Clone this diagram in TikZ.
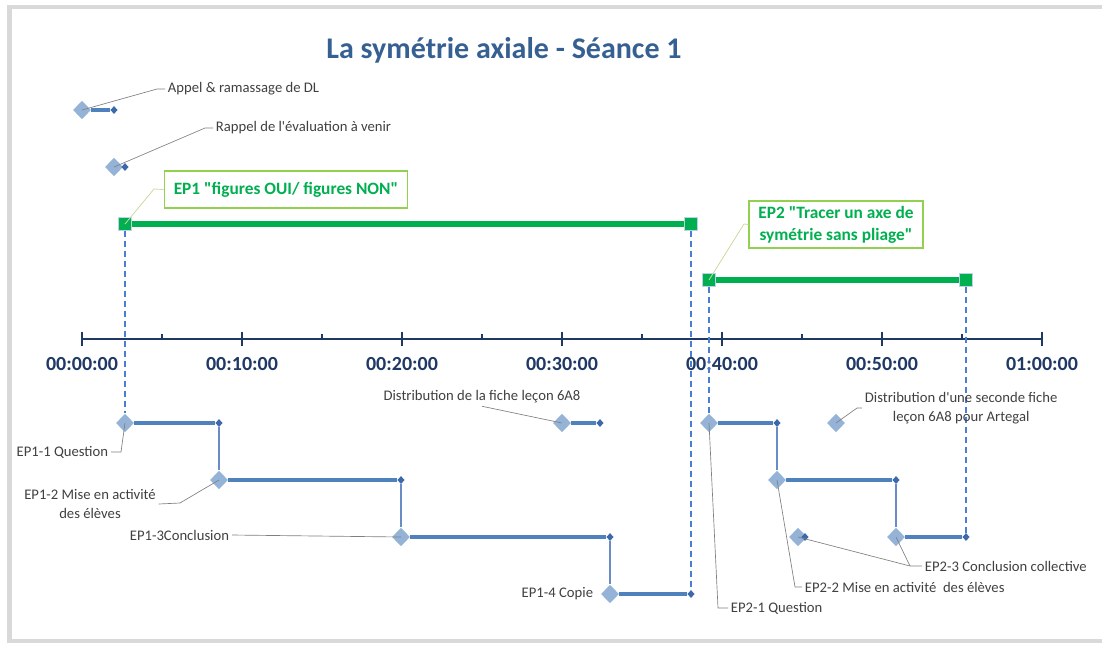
\documentclass[tikz,border=0pt]{standalone}
\usepackage{fontspec}
\setmainfont{Carlito}
\usepackage{tikz}
\usetikzlibrary{arrows.meta, shapes.geometric}
\definecolor{framegray}{RGB}{217,217,217}
\definecolor{titleblue}{RGB}{54,96,146}
\definecolor{axisblue}{RGB}{31,56,100}
\definecolor{taskblue}{RGB}{79,129,189}
\definecolor{markblue}{RGB}{61,105,170}
\definecolor{linkblue}{RGB}{105,140,198}
\definecolor{diamblue}{RGB}{149,179,215}
\definecolor{guideblue}{RGB}{74,126,210}
\definecolor{phasegreen}{RGB}{0,176,80}
\definecolor{boxgreen}{RGB}{146,208,80}
\definecolor{leadgray}{RGB}{128,128,128}
\definecolor{leadgreen}{RGB}{200,220,160}
\definecolor{textgray}{RGB}{64,64,64}

\begin{document}
\begin{tikzpicture}[x=0.75pt, y=-0.75pt, >=Stealth,
  bigdiam/.style={diamond, fill=diamblue, inner sep=0pt, minimum width=13.5pt, minimum height=14pt},
  smalldiam/.style={diamond, fill=markblue, inner sep=0pt, minimum width=5.5pt, minimum height=6pt},
  phasesq/.style={rectangle, fill=phasegreen, draw=diamblue!60, line width=0.4pt, minimum size=9.5pt, inner sep=0pt},
  tasktext/.style={text=textgray, font=\fontsize{11}{14}\selectfont, inner sep=2pt},
  eptext/.style={draw=boxgreen, line width=1.1pt, fill=white, text=phasegreen, font=\bfseries\fontsize{13}{16.5}\selectfont, inner xsep=7pt, inner ysep=3pt, align=center},
  timetext/.style={text=axisblue, font=\bfseries\fontsize{15}{17}\selectfont},
  task/.style={taskblue, line width=3pt},
  link/.style={linkblue, line width=1.1pt},
  phase/.style={phasegreen, line width=4pt},
  guide/.style={guideblue, dash pattern=on 4.5pt off 3pt, line width=0.9pt},
  leader/.style={leadgray, line width=0.5pt},
  epleader/.style={leadgreen, line width=0.6pt},
  axis/.style={axisblue, line width=2.2pt}]
\useasboundingbox (0,0) rectangle (1102,644);

% Frame and title
\draw[framegray, line width=3.4pt] (9.5,7) rectangle (1112,641);
\node[text=titleblue, font=\bfseries\fontsize{22.5}{26}\selectfont] (title) at (504,50) {La symétrie axiale - Séance 1};

% Time axis
\draw[axis] (82,339) -- (1042,339);
\draw[axis, line width=2pt] (82,332) -- (82,346) (242,332) -- (242,346) (402,332) -- (402,346) (562,332) -- (562,346) (722,332) -- (722,346) (882,332) -- (882,346) (1042,332) -- (1042,346);
\draw[axis, line width=2pt] (162,334) -- (162,339) (322,334) -- (322,339) (482,334) -- (482,339) (642,334) -- (642,339) (802,334) -- (802,339) (962,334) -- (962,339);
\node[timetext] (t0) at (82,364) {00:00:00};
\node[timetext] (t10) at (242,364) {00:10:00};
\node[timetext] (t20) at (402,364) {00:20:00};
\node[timetext] (t30) at (562,364) {00:30:00};
\node[timetext] (t40) at (722,364) {00:40:00};
\node[timetext] (t50) at (882,364) {00:50:00};
\node[timetext] (t60) at (1042,364) {01:00:00};

% Phases EP1 and EP2
\node[phasesq] (ep1s) at (125,224) {};
\node[phasesq] (ep1e) at (691,224) {};
\node[phasesq] (ep2s) at (709,280) {};
\node[phasesq] (ep2e) at (966,280) {};
\draw[phase] (ep1s) -- (ep1e);
\draw[phase] (ep2s) -- (ep2e);
\node[eptext, minimum height=27.75pt] (tep1) at (286,189.5) {EP1 \textquotedbl figures OUI/ figures NON\textquotedbl};
\node[eptext, minimum height=35.25pt] (tep2) at (836,224.5) {EP2 \textquotedbl Tracer un axe de\\symétrie sans pliage\textquotedbl};

% Tasks above the axis
\node[bigdiam] (appel) at (82,110) {};
\node[smalldiam] (appelend) at (114,110) {};
\node[bigdiam] (rappel) at (114,167) {};
\node[smalldiam] (rappelend) at (125,167) {};
\draw[task] (appel) -- (appelend);

% Tasks below the axis
\node[bigdiam] (dist1) at (562,423) {};
\node[smalldiam] (dist1end) at (600,423) {};
\node[bigdiam] (dist2) at (836,423) {};
\node[bigdiam] (ep11) at (125,423) {};
\node[smalldiam] (ep11end) at (219,423) {};
\node[bigdiam] (ep12) at (219,480) {};
\node[smalldiam] (ep12end) at (401,480) {};
\node[bigdiam] (ep13) at (401,537) {};
\node[smalldiam] (ep13end) at (610,537) {};
\node[bigdiam] (ep14) at (610,594) {};
\node[smalldiam] (ep14end) at (691,594) {};
\node[bigdiam] (ep21) at (709,423) {};
\node[smalldiam] (ep21end) at (777,423) {};
\node[bigdiam] (ep22) at (777,480) {};
\node[smalldiam] (ep22end) at (896,480) {};
\node[bigdiam] (ep23) at (896,537) {};
\node[smalldiam] (ep23end) at (966,537) {};
\node[bigdiam] (ep23b) at (798,537) {};
\node[smalldiam] (ep23bend) at (805,537) {};
\draw[task] (dist1) -- (dist1end);
\draw[task] (ep11) -- (ep11end);
\draw[task] (ep12) -- (ep12end);
\draw[task] (ep13) -- (ep13end);
\draw[task] (ep14) -- (ep14end);
\draw[task] (ep21) -- (ep21end);
\draw[task] (ep22) -- (ep22end);
\draw[task] (ep23) -- (ep23end);
\draw[link] (ep11end) -- (ep12);
\draw[link] (ep12end) -- (ep13);
\draw[link] (ep13end) -- (ep14);
\draw[link] (ep21end) -- (ep22);
\draw[link] (ep22end) -- (ep23);

% Dashed guides from the phases
\draw[guide] (ep1s) -- (ep11);
\draw[guide] (ep1e) -- (ep14end);
\draw[guide] (ep2s) -- (ep21);
\draw[guide] (ep2e) -- (ep23end);

% Labels for tasks
\node[tasktext, anchor=west] (tappel) at (165,89) {Appel \& ramassage de DL};
\node[tasktext, anchor=west] (trappel) at (213,128) {Rappel de l\textquotesingle évaluation à venir};
\node[tasktext] (tdist1) at (482,397) {Distribution de la fiche leçon 6A8};
\node[tasktext, align=center, anchor=west] (tdist2) at (862,408) {Distribution d\textquotesingle une seconde fiche\\leçon 6A8 pour Artegal};
\node[tasktext, anchor=east] (tep11) at (111,452) {EP1-1 Question};
\node[tasktext, align=center] (tep12) at (90,504) {EP1-2 Mise en activité\\des élèves};
\node[tasktext, anchor=east] (tep13) at (232,535) {EP1-3Conclusion};
\node[tasktext, anchor=east] (tep14) at (596,594) {EP1-4 Copie};
\node[tasktext, anchor=west] (tep21) at (728,608) {EP2-1 Question};
\node[tasktext, anchor=west] (tep22) at (802,587) {EP2-2 Mise en activité\ \ des élèves};
\node[tasktext, anchor=west] (tep23) at (922,566) {EP2-3 Conclusion collective};
\coordinate (k23) at (910,566);

% Leader lines
\draw[epleader] (ep1s.center) -- (154,189) -- (tep1.west);
\draw[epleader] (ep2s.center) -- (744,224) -- (tep2.west);
\draw[leader] (appel.center) -- (157,89) -- (tappel.west);
\draw[leader] (rappel.center) -- (205,128) -- (trappel.west);
\draw[leader] (tdist1.south) -- (dist1.center);
\draw[leader] (dist2.center) -- (857,408) -- (tdist2.west);
\draw[leader] (ep11.center) -- (121,452) -- (tep11.east);
\draw[leader] (ep12.center) -- (180,503) -- (tep12.east);
\draw[leader] (ep13.center) -- (tep13.east);
\draw[leader] (ep21.center) -- (718,608) -- (tep21.west);
\draw[leader] (ep22.center) -- (795,587) -- (tep22.west);
\draw[leader] (ep23b.center) -- (k23) -- (tep23.west);
\draw[leader] (ep23.center) -- (k23);
\end{tikzpicture}
\end{document}
